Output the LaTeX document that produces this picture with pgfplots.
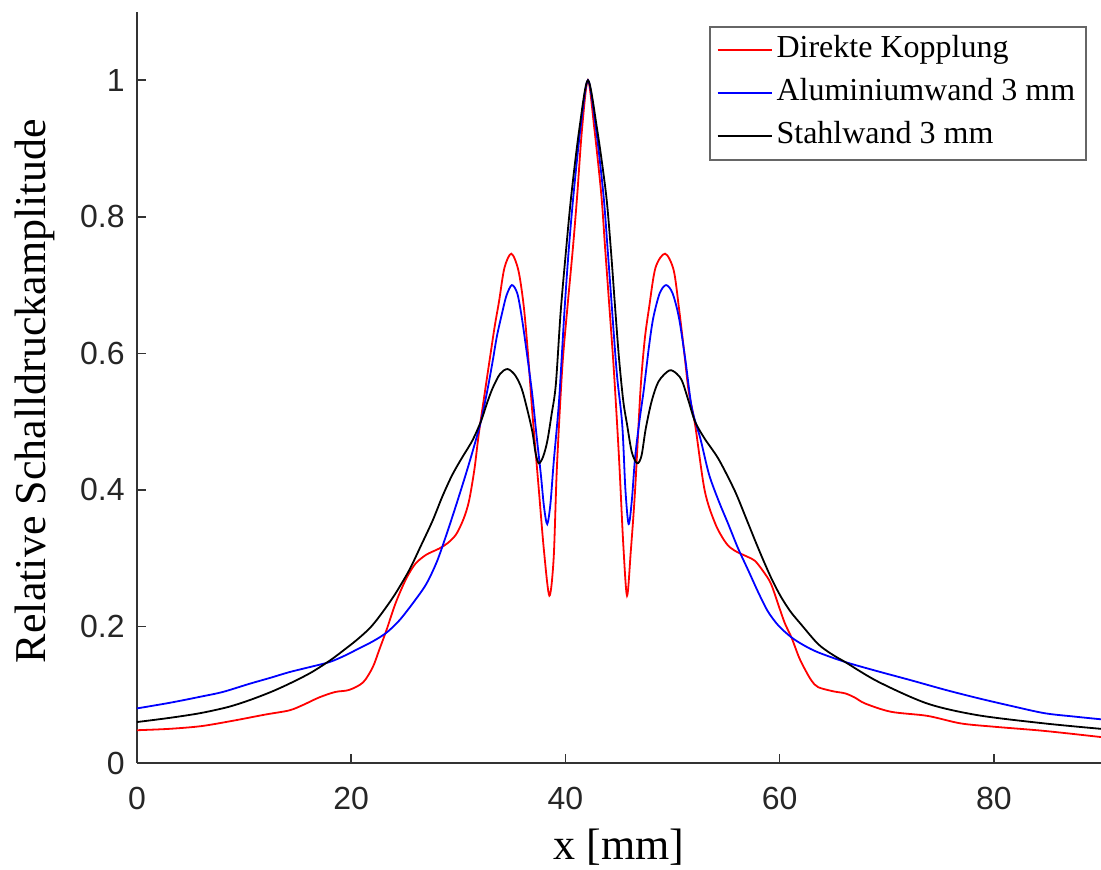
\documentclass[border=0pt]{standalone}
\usepackage{fontspec}
\setmainfont{Liberation Serif}
\newfontfamily\arialfont{Liberation Sans}
\usepackage{pgfplots}
\pgfplotsset{compat=1.18}
\begin{document}
\begin{tikzpicture}
\begin{axis}[
  at={(0,0)}, anchor=south west,
  scale only axis, width=482pt, height=375.5pt,
  xmin=0, xmax=90, ymin=0, ymax=1.1,
  axis lines*=left,
  axis line style={black!80, line width=0.8pt},
  tick style={black!80, line width=0.8pt},
  tick align=inside, major tick length=4.5pt,
  xtick={0,20,40,60,80}, xticklabels={0,20,40,60,80},
  ytick={0,0.2,0.4,0.6,0.8,1}, yticklabels={0,0.2,0.4,0.6,0.8,1},
  ticklabel style={font=\arialfont\fontsize{16}{19}\selectfont, text=black!85},
  xticklabel style={inner sep=0pt, anchor=north, yshift=-12pt},
  yticklabel style={inner sep=0pt, anchor=east, xshift=-6pt},
  xlabel={x [mm]}, ylabel={Relative Schalldruckamplitude},
  label style={font=\fontsize{22}{26}\selectfont},
  xlabel style={at={(axis description cs:0.5,0)}, anchor=base, yshift=-48.5pt},
  ylabel style={at={(axis description cs:-0.1058,0.495)}, anchor=center},
  legend cell align=left,
  legend style={at={(0.9855,0.9814)}, anchor=north east, draw=black!60, line width=0.8pt,
    fill=white, inner xsep=3.5pt, inner ysep=1pt, row sep=0pt,
    font=\fontsize{16}{19}\selectfont,
    nodes={inner xsep=2pt, inner ysep=3pt, text height=11.5pt, text depth=4pt}},
  legend image code/.code={\draw[#1, line width=0.9pt] (0pt,0pt) -- (27pt,0pt);},
  every axis plot/.append style={line width=0.9pt, smooth, tension=0.5},
]
\addplot[red] coordinates {
(0,0.048) (3,0.050) (6,0.054) (9,0.062) (12,0.071) (14.2,0.077) (15.5,0.085)
(17,0.096) (18.5,0.104) (19.8,0.107) (21.1,0.118) (22.0,0.140) (22.6,0.165)
(23.3,0.195) (24.0,0.228) (24.5,0.248) (25.2,0.272) (26.0,0.292) (27.0,0.305)
(28.2,0.314) (29.0,0.322) (29.8,0.335) (30.5,0.358) (31.0,0.384) (31.5,0.430)
(31.9,0.481) (32.4,0.535) (32.9,0.588) (33.4,0.640) (33.8,0.676) (34.3,0.725)
(34.95,0.746) (35.6,0.722) (36.1,0.670) (36.5,0.600) (36.9,0.515) (37.5,0.403)
(38.0,0.310) (38.5,0.245) (38.9,0.300) (39.2,0.432) (39.7,0.578) (40.2,0.670)
(40.7,0.755) (41.1,0.832) (41.55,0.929) (42.1,1.0) (42.7,0.929) (43.35,0.832)
(43.7,0.755) (44.0,0.690) (44.5,0.580) (45.0,0.447) (45.4,0.320) (45.75,0.245)
(46.1,0.310) (46.5,0.399) (47.0,0.545) (47.4,0.620) (47.8,0.666) (48.4,0.725)
(49.3,0.746) (50.1,0.722) (50.6,0.666) (51.1,0.600) (51.5,0.545) (52.1,0.496)
(53.0,0.399) (54.0,0.350) (55.0,0.322) (55.8,0.311) (57.0,0.302) (57.7,0.296)
(58.5,0.280) (59.2,0.262) (60.0,0.226) (60.5,0.204) (61.1,0.184) (61.8,0.155)
(62.4,0.136) (63.0,0.120) (63.6,0.111) (65.0,0.105) (66.1,0.102) (67.0,0.096)
(68.0,0.087) (70.4,0.075) (73.8,0.069) (76.9,0.058) (80.1,0.053) (84.7,0.047)
(90,0.038)
};
\addlegendentry{Direkte Kopplung}
\addplot[blue] coordinates {
(0,0.080) (3,0.088) (5.9,0.097) (8,0.104) (10.5,0.116) (12.5,0.125) (14.2,0.133)
(16,0.140) (18,0.148) (19.5,0.158) (20.5,0.166) (22,0.178) (23.3,0.191)
(24.5,0.209) (25.8,0.235) (27.0,0.262) (28.0,0.295) (28.9,0.335) (29.8,0.378)
(30.7,0.423) (31.4,0.460) (32.1,0.500) (32.7,0.545) (33.2,0.588) (33.6,0.625)
(34.1,0.660) (34.5,0.685) (35.0,0.700) (35.5,0.688) (35.9,0.655) (36.4,0.600)
(36.9,0.540) (37.3,0.480) (37.7,0.423) (38.0,0.375) (38.3,0.350) (38.6,0.380)
(38.9,0.440) (39.4,0.530) (39.9,0.660) (40.3,0.750) (40.75,0.832) (41.4,0.929)
(42.1,1.0) (42.85,0.929) (43.55,0.832) (43.95,0.750) (44.3,0.675) (44.8,0.570)
(45.3,0.496) (45.6,0.400) (45.9,0.350) (46.2,0.385) (46.5,0.447) (46.9,0.500)
(47.3,0.545) (47.8,0.610) (48.2,0.652) (48.8,0.688) (49.4,0.700) (50.0,0.688)
(50.6,0.652) (51.2,0.590) (51.8,0.520) (52.6,0.475) (53.4,0.423) (54.3,0.384)
(55.2,0.350) (56.1,0.315) (57.1,0.281) (58.0,0.250) (58.9,0.222) (59.9,0.201)
(61.1,0.184) (62.3,0.172) (63.6,0.162) (66.1,0.148) (69,0.135) (72.3,0.121)
(75.5,0.107) (78.5,0.095) (81.5,0.084) (84.7,0.073) (87.5,0.068) (90,0.064)
};
\addlegendentry{Aluminiumwand 3 mm}
\addplot[black] coordinates {
(0,0.060) (3,0.066) (5.9,0.073) (8.5,0.082) (10.5,0.092) (12.5,0.104)
(14.2,0.116) (16.2,0.132) (18,0.150) (19.2,0.164) (20.5,0.180) (21.7,0.197)
(22.6,0.214) (24,0.245) (25.4,0.282) (26.5,0.318) (27.6,0.355) (28.5,0.390)
(29.4,0.421) (30.3,0.446) (31.3,0.472) (32.1,0.500) (32.7,0.528) (33.2,0.549)
(33.9,0.570) (34.6,0.577) (35.3,0.568) (35.9,0.549) (36.4,0.520) (36.9,0.486)
(37.2,0.455) (37.5,0.439) (37.9,0.448) (38.3,0.471) (38.7,0.510) (39.1,0.554)
(39.55,0.660) (40.05,0.750) (40.55,0.832) (41.3,0.929) (42.1,1.0) (42.95,0.929)
(43.8,0.832) (44.25,0.750) (44.6,0.675) (45.0,0.593) (45.4,0.530) (45.75,0.496)
(46.2,0.455) (46.7,0.439) (47.1,0.450) (47.5,0.490) (48.05,0.530) (48.7,0.559)
(49.7,0.575) (50.4,0.570) (50.9,0.559) (51.5,0.530) (52.1,0.500) (53.0,0.475)
(54.3,0.445) (55.8,0.399) (56.8,0.361) (57.7,0.326) (58.5,0.296) (59.3,0.268)
(60.1,0.244) (61.0,0.222) (62.0,0.203) (63.6,0.174) (65,0.158) (66.1,0.148)
(69.2,0.119) (73.8,0.087) (78.5,0.070) (84.7,0.058) (90,0.050)
};
\addlegendentry{Stahlwand 3 mm}
\end{axis}
\pgfresetboundingbox
\useasboundingbox (-68.5pt,-53.5pt) rectangle (482pt,381.5pt);
\end{tikzpicture}
\end{document}
